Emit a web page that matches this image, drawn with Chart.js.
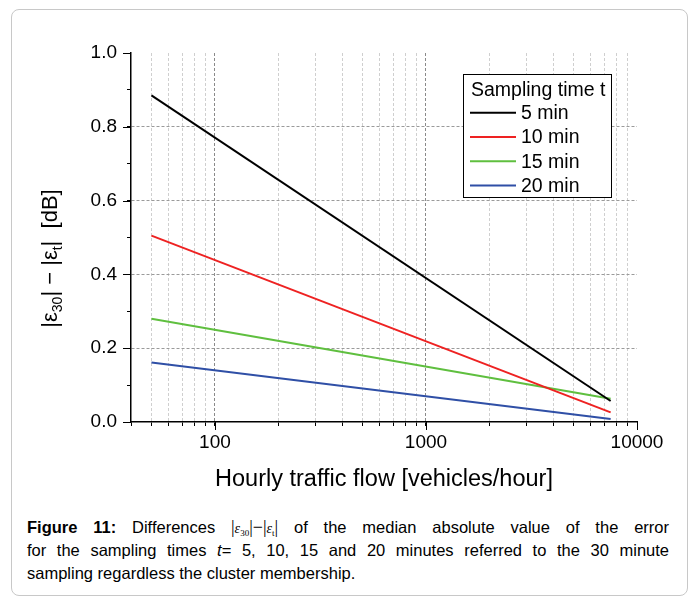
<!DOCTYPE html>
<html>
<head>
<meta charset="utf-8">
<script src="https://cdn.jsdelivr.net/npm/chart.js@4.4.0/dist/chart.umd.min.js"></script>
<style>
  body { margin:0; background:#fff; width:696px; height:597px; position:relative; overflow:hidden;
         font-family:"Liberation Sans", Arial, sans-serif; }
  #frame { position:absolute; left:11px; top:9px; width:675px; height:585px;
           border:1px solid #c8c8c8; border-radius:8px; }
  #wrap { position:absolute; left:0; top:0; width:696px; height:510px; }
  #caption { position:absolute; left:27px; top:516px; width:642px; font-size:16.5px; line-height:23px; color:#000; }
  #caption div { height:23px; text-align:justify; text-align-last:justify; white-space:nowrap; }
  #caption div.last { text-align-last:left; }
  .m { font-family:"Liberation Serif", "Times New Roman", serif; font-size:18px; line-height:1; }
  .m i { font-size:14px; }
  .m sub { font-size:9px; line-height:1; vertical-align:baseline; position:relative; top:3px; }
</style>
</head>
<body>
<div id="frame"></div>
<div id="wrap"><canvas id="flow-chart"></canvas></div>
<div id="caption">
  <div><b>Figure 11:</b> Differences <span class="m">|<i>ε</i><sub>30</sub>|−|<i>ε</i><sub>t</sub>|</span> of the median absolute value of the error</div>
  <div>for the sampling times <i>t</i>= 5, 10, 15 and 20 minutes referred to the 30 minute</div>
  <div class="last">sampling regardless the cluster membership.</div>
</div>
<script>
// hourly traffic flow at the ends of each fitted line
var flow = [50, 7500];

// |e30| - |et| in dB, one array per sampling time
var err5 = [0.885, 0.057];
var err10 = [0.505, 0.026];
var err15 = [0.280, 0.063];
var err20 = [0.161, 0.008];

var seriesNames = ['5 min', '10 min', '15 min', '20 min'];
var legendTitle = 'Sampling time t';

var xTicks = [40, 50, 60, 70, 80, 90, 100, 200, 300, 400, 500, 600, 700, 800, 900,
              1000, 2000, 3000, 4000, 5000, 6000, 7000, 8000, 9000, 10000];
var xLabels = [100, 1000, 10000];
var yTicks = [0, 0.1, 0.2, 0.3, 0.4, 0.5, 0.6, 0.7, 0.8, 0.9, 1.0];
var yLabels = [0, 0.2, 0.4, 0.6, 0.8, 1.0];

var FONT = '"Liberation Sans", Arial, sans-serif';

function points(vals) {
  return flow.map(function (x, i) { return { x: x, y: vals[i] }; });
}
function isYMajor(v) {
  return yLabels.some(function (l) { return Math.abs(l - v) < 1e-6; });
}

var yTitle = {
  id: 'yTitle',
  afterDraw: function (chart) {
    var ctx = chart.ctx;
    var parts = [['|ε', 0], ['30', 1], ['| − |ε', 0], ['t', 1], ['|  [dB]', 0]];
    var big = '22px ' + FONT, small = '14px ' + FONT;
    var total = 0;
    ctx.save();
    parts.forEach(function (p) { ctx.font = p[1] ? small : big; total += ctx.measureText(p[0]).width; });
    var cy = (chart.chartArea.top + chart.chartArea.bottom) / 2 + 21;
    ctx.translate(57, cy);
    ctx.rotate(-Math.PI / 2);
    ctx.fillStyle = '#000';
    ctx.textAlign = 'left';
    ctx.textBaseline = 'alphabetic';
    var x = -total / 2;
    parts.forEach(function (p) {
      ctx.font = p[1] ? small : big;
      ctx.fillText(p[0], x, p[1] ? 5 : 0);
      x += ctx.measureText(p[0]).width;
    });
    ctx.restore();
  }
};

var majorTicks = {
  id: 'majorTicks',
  afterDraw: function (chart) {
    var ctx = chart.ctx, xs = chart.scales.x, ys = chart.scales.y, a = chart.chartArea;
    ctx.save();
    ctx.strokeStyle = '#000';
    ctx.lineWidth = 1;
    ctx.beginPath();
    xLabels.forEach(function (v) {
      var px = Math.round(xs.getPixelForValue(v)) + 0.5;
      ctx.moveTo(px, a.bottom); ctx.lineTo(px, a.bottom + 8);
    });
    yLabels.forEach(function (v) {
      var py = Math.round(ys.getPixelForValue(v)) + 0.5;
      ctx.moveTo(a.left - 8, py); ctx.lineTo(a.left, py);
    });
    ctx.stroke();
    ctx.restore();
  }
};

var legendBox = {
  id: 'legendBox',
  afterDatasetsDraw: function (chart) {
    var ctx = chart.ctx, a = chart.chartArea;
    var x0 = a.right - 174, y0 = a.top + 21, w = 148, h = 123;
    ctx.save();
    ctx.fillStyle = '#fff';
    ctx.fillRect(x0, y0, w, h);
    ctx.strokeStyle = '#000';
    ctx.lineWidth = 1;
    ctx.strokeRect(x0 + 0.5, y0 + 0.5, w, h);
    ctx.fillStyle = '#000';
    ctx.font = '19.5px ' + FONT;
    ctx.textBaseline = 'alphabetic';
    ctx.fillText(legendTitle, x0 + 8, y0 + 22);
    chart.data.datasets.forEach(function (ds, i) {
      var y = y0 + 38.7 + i * 24.3;
      ctx.strokeStyle = ds.borderColor;
      ctx.lineWidth = 2;
      ctx.beginPath();
      ctx.moveTo(x0 + 7, y);
      ctx.lineTo(x0 + 53, y);
      ctx.stroke();
      ctx.textBaseline = 'middle';
      ctx.fillText(ds.label, x0 + 58, y + 1);
    });
    ctx.restore();
  }
};

var colors = ['#000000', '#ee2222', '#5fbf3f', '#2f4fa6'];
var allSeries = [err5, err10, err15, err20];

var config = {
  type: 'line',
  data: {
    datasets: allSeries.map(function (s, i) {
      return {
        label: seriesNames[i],
        data: points(s),
        borderColor: colors[i],
        borderWidth: 2,
        pointRadius: 0,
        fill: false,
        tension: 0
      };
    })
  },
  options: {
    responsive: true,
    maintainAspectRatio: false,
    animation: false,
    layout: { padding: { left: 20, top: 53, right: 59, bottom: 8 } },
    plugins: { legend: { display: false }, tooltip: { enabled: false } },
    scales: {
      x: {
        type: 'logarithmic',
        min: 40,
        max: 10000,
        afterBuildTicks: function (scale) {
          scale.ticks = xTicks.map(function (v) { return { value: v, major: xLabels.indexOf(v) >= 0 }; });
        },
        afterFit: function (scale) { scale.height = 80; },
        ticks: {
          autoSkip: false,
          maxRotation: 0,
          padding: 5,
          color: '#000',
          font: { family: FONT, size: 19 },
          callback: function (v) { return xLabels.indexOf(v) >= 0 ? String(v) : ''; }
        },
        grid: {
          color: function (c) {
            if (!c.tick) return 'rgba(0,0,0,0)';
            var v = c.tick.value;
            if (v === 40 || v === 10000) return 'rgba(0,0,0,0)';
            return xLabels.indexOf(v) >= 0 ? '#8a8a8a' : '#cfcfcf';
          },
          lineWidth: 1,
          tickLength: 4,
          tickColor: '#000',
          tickWidth: 1
        },
        border: { display: true, color: '#000', width: 1.5, dash: [3, 2] },
        title: {
          display: true,
          text: 'Hourly traffic flow [vehicles/hour]',
          color: '#000',
          font: { family: FONT, size: 23.5 },
          padding: { top: 0, bottom: 8 }
        }
      },
      y: {
        min: 0,
        max: 1,
        afterBuildTicks: function (scale) {
          scale.ticks = yTicks.map(function (v) { return { value: v }; });
        },
        afterFit: function (scale) { scale.width = 111; },
        ticks: {
          autoSkip: false,
          padding: 10,
          color: '#000',
          font: { family: FONT, size: 19 },
          callback: function (v) { return isYMajor(v) ? v.toFixed(1) : ''; }
        },
        grid: {
          color: function (c) {
            if (!c.tick) return 'rgba(0,0,0,0)';
            var v = c.tick.value;
            return (isYMajor(v) && v > 0.05 && v < 0.95) ? '#9a9a9a' : 'rgba(0,0,0,0)';
          },
          lineWidth: 1,
          tickLength: 4,
          tickColor: '#000',
          tickWidth: 1
        },
        border: { display: true, color: '#000', width: 1.5, dash: [3, 2] }
      }
    }
  },
  plugins: [yTitle, majorTicks, legendBox]
};

window.onload = function () {
  var ctx = document.getElementById('flow-chart').getContext('2d');
  window.flowChart = new Chart(ctx, config);
};
</script>
</body>
</html>
